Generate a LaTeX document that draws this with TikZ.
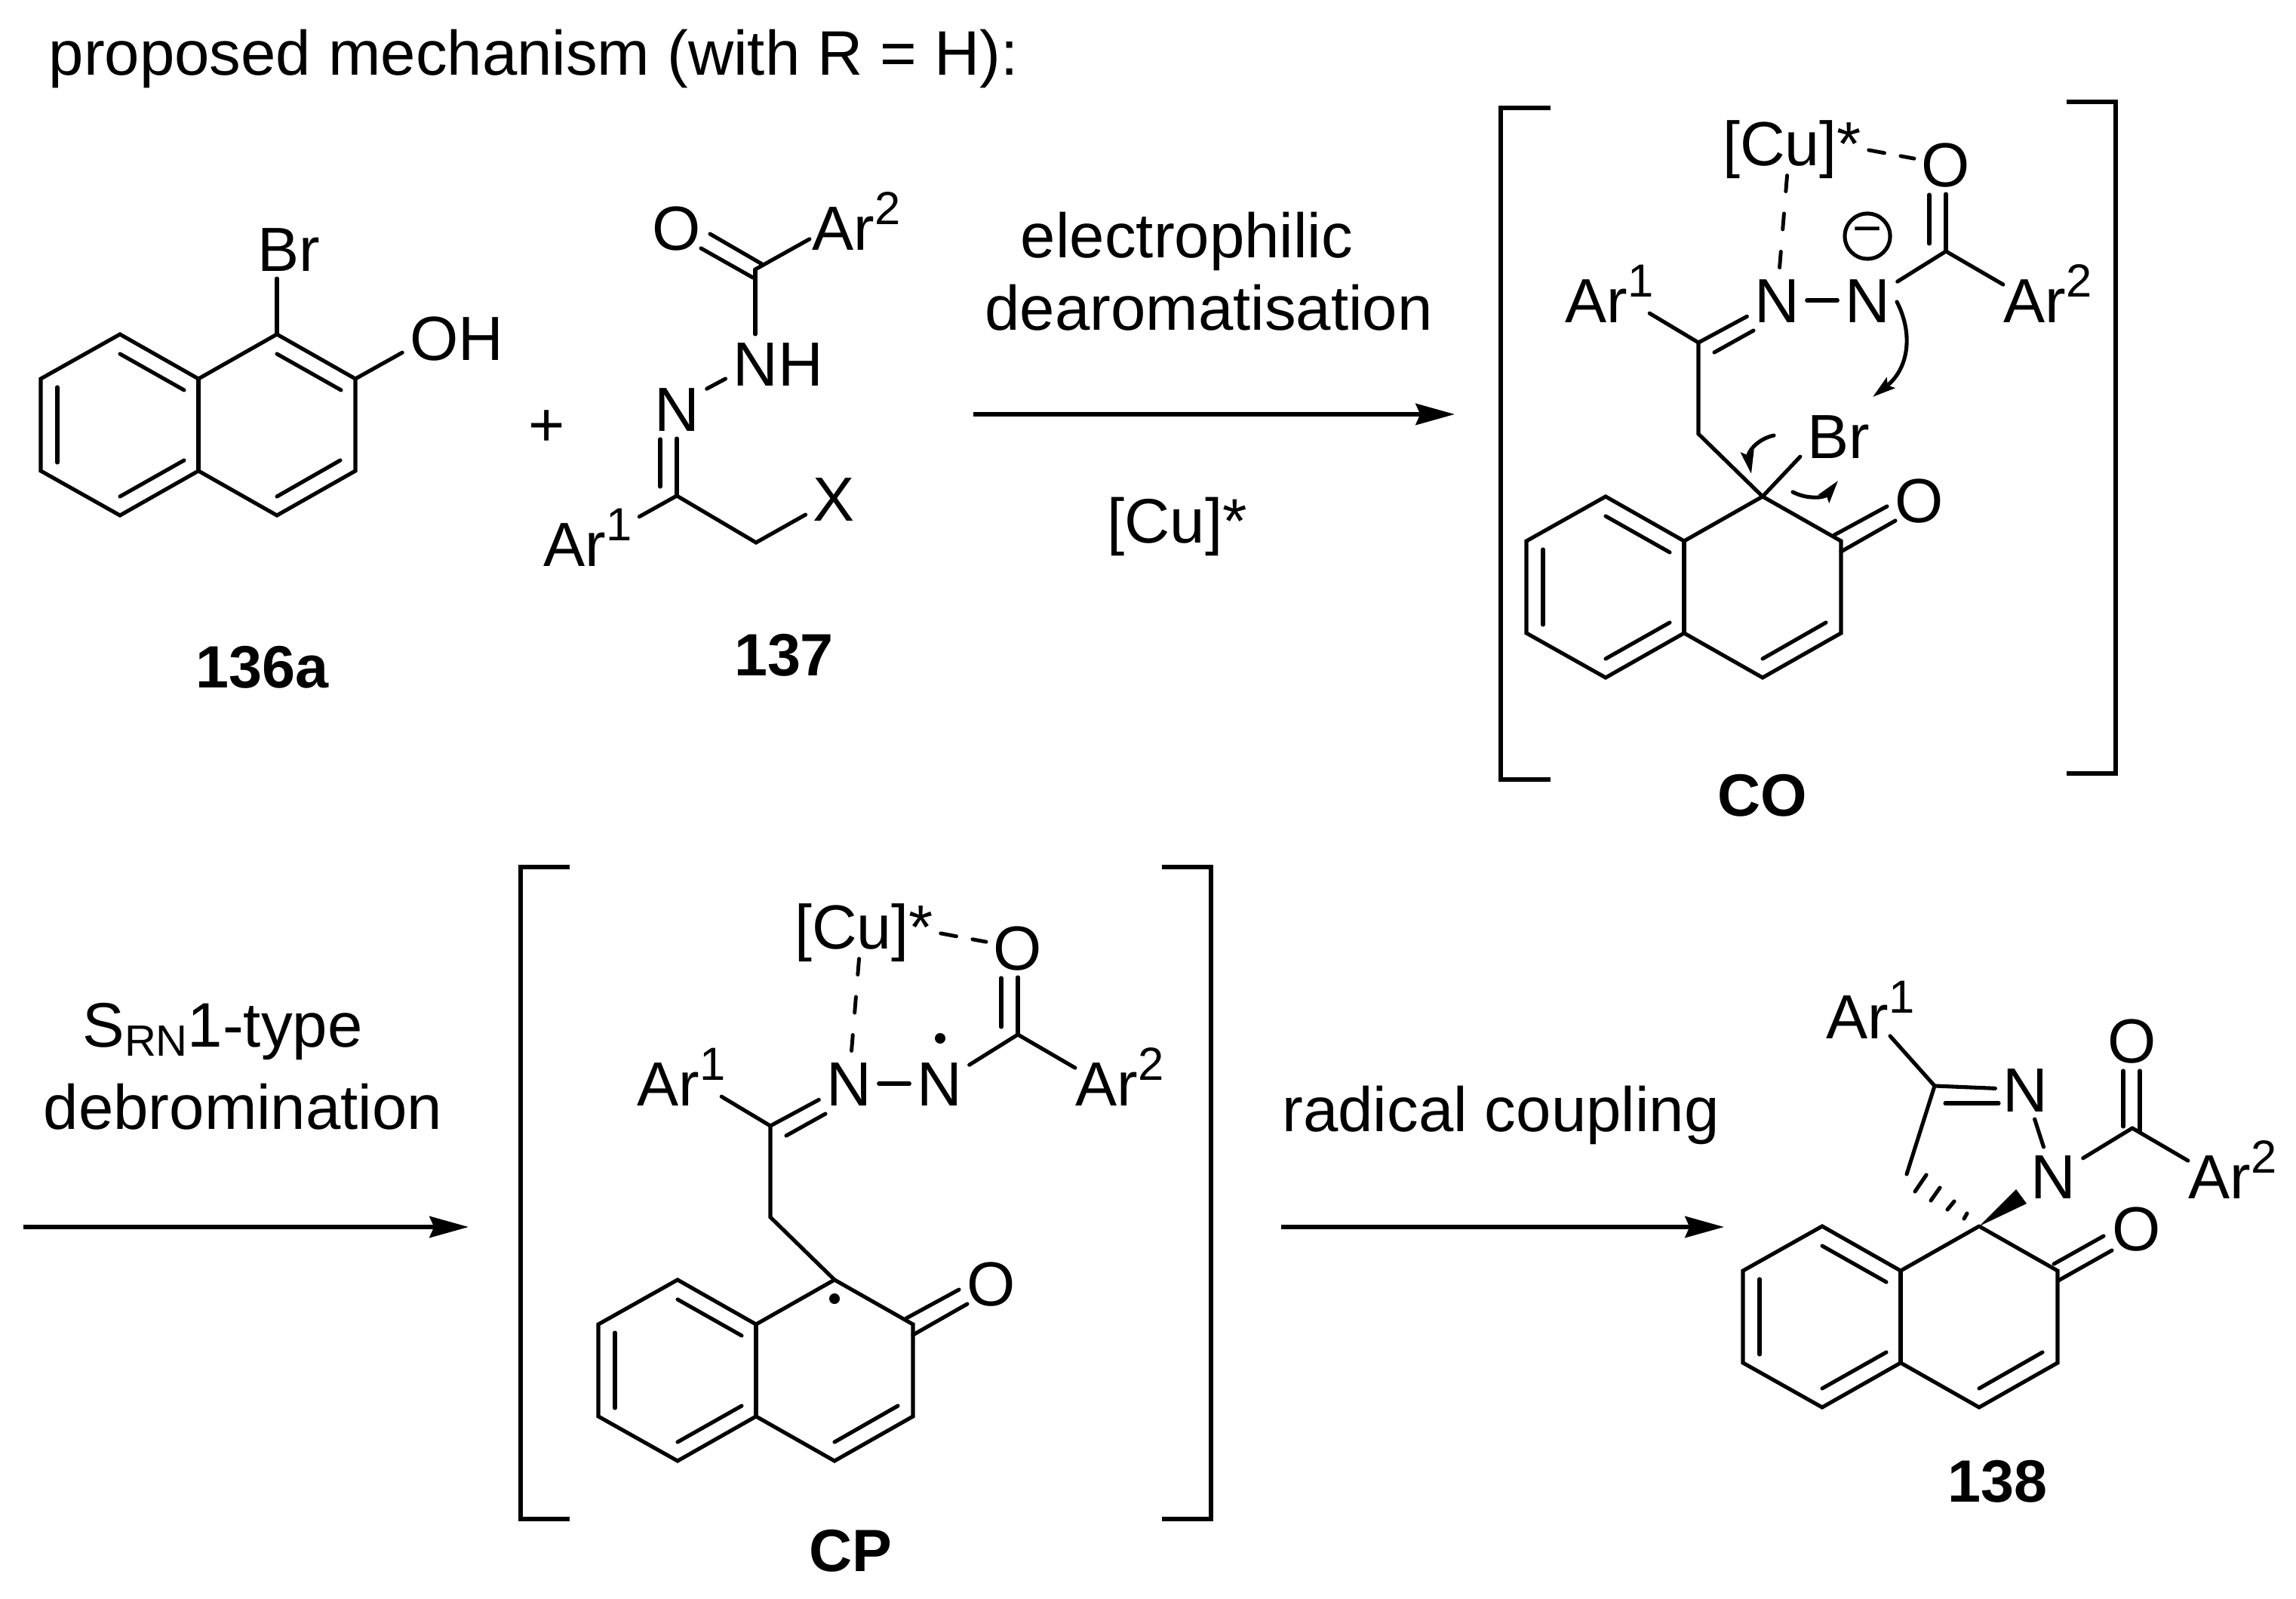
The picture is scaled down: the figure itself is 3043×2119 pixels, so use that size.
\documentclass[tikz,border=0pt]{standalone}
\usepackage{fontspec}
\setmainfont{Liberation Sans}
\usetikzlibrary{arrows.meta}
\newcommand{\supr}[1]{\raisebox{9.6pt}{\fontsize{17.5}{17.5}\selectfont #1}}
\newcommand{\subr}[1]{\raisebox{-3.5pt}{\fontsize{16.5}{16.5}\selectfont #1}}
\tikzset{
  bond/.style={line width=1.45pt,line cap=round},
  dbond/.style={line width=1.4pt,line cap=round,dash pattern=on 6pt off #1},
  atom/.style={font=\fontsize{23.5}{23.5}\selectfont,inner sep=2.6pt,text height=16.6pt,text depth=0pt},
  txt/.style={font=\fontsize{23.7}{28}\selectfont,inner sep=0pt,text height=16.6pt,text depth=0pt},
  cmpd/.style={font=\fontsize{22.5}{22.5}\selectfont\bfseries,inner sep=0pt,text height=16pt,text depth=0pt},
  rxn/.style={line width=1.6pt,-{Stealth[length=14.7pt,width=8pt,inset=1.7pt]}},
  curly/.style={line width=1.45pt,line cap=round,-{Stealth[length=8.6pt,width=5pt,inset=1.5pt]}},
  brk/.style={line width=1.45pt},
  naph/.pic={
    \coordinate (-a) at (0,0);
    \coordinate (-b) at (104,59);
    \coordinate (-c) at (104,181);
    \coordinate (-d) at (0,240);
    \coordinate (-e) at (-104,181);
    \coordinate (-f) at (-104,59);
    \coordinate (-g) at (-208,0);
    \coordinate (-h) at (-313,59);
    \coordinate (-i) at (-313,181);
    \coordinate (-j) at (-208,240);
    \draw[bond,line join=miter] (-a) -- (-b) -- (-c) -- (-d) -- (-e) -- (-j) -- (-i) -- (-h) -- (-g) -- (-f) -- (-a);
    \draw[bond] (-e) -- (-f);
    \draw[bond] (-208,26) -- (-123,74);
    \draw[bond] (-291,70) -- (-291,170);
    \draw[bond] (-208,215) -- (-123,167);
    \draw[bond] (0,215) -- (84,167);
  },
  chain/.pic={
    \coordinate (-c1) at (0,0);
    \coordinate (-ch) at (-85,-83);
    \coordinate (-cn) at (-85,-204);
    \coordinate (-co) at (243,-325);
    \node[atom] (-cu) at (39,-468) {[Cu]*};
    \node[atom] (-o) at (243,-440) {O};
    \node[atom] (-na) at (19,-260) {N};
    \node[atom] (-nb) at (139,-260) {N};
    \node[atom] (-ara) at (-203,-260) {Ar\supr{1}};
    \node[atom] (-arb) at (378,-260) {Ar\supr{2}};
    \node[atom] (-ok) at (208,5) {O};
    \draw[dbond=6.2pt] (-cu.-5) -- (-o);
    \draw[dbond=8.4pt,shorten <=1pt] (-cu.-99) -- (-na);
    \draw[bond] (221,-400) -- (221,-335);
    \draw[bond] (-co) -- (-o);
    \draw[bond,shorten >=-3pt] (-co) -- (-arb.159);
    \draw[bond] (-co) -- (-nb);
    \draw[bond] (-na) -- (-nb);
    \draw[bond] (-cn) -- (-na);
    \draw[bond] (-64,-191) -- (-12,-220);
    \draw[bond,shorten >=-5pt] (-cn) -- (-ara.-21);
    \draw[bond] (-cn) -- (-ch) -- (-c1);
    \draw[bond] (95,51) -- (165,13);
    \draw[bond] (104,73) -- (176,32);
  }
}
\begin{document}
\begin{tikzpicture}[x=0.01cm,y=-0.01cm]
    \useasboundingbox (0,0) rectangle (3043,2119);
    \node[txt,anchor=west] (title) at (64,70) {proposed mechanism (with R = H):};

    % starting materials
    \pic (sm) at (367,443) {naph};
    \node[atom] (br) at (383,330) {Br};
    \node[atom] (oh) at (605,448) {OH};
    \draw[bond] (sm-a) -- (sm-a |- br.south);
    \draw[bond] (sm-b) -- (oh.195);
    \draw[bond] (367,469) -- (452,517);
    \node[atom] (plus) at (725,562) {+};
    \node[cmpd] (lba) at (348,883) {136a};

    \coordinate (ca) at (1001,357);
    \coordinate (cb) at (897,657);
    \coordinate (cc) at (1002,719);
    \node[atom] (oa) at (897,302) {O};
    \node[atom] (arb) at (1135,302) {Ar\supr{2}};
    \node[atom] (nh) at (1031,482) {NH};
    \node[atom] (na) at (897,542) {N};
    \node[atom] (ara) at (779,721) {Ar\supr{1}};
    \node[atom] (xa) at (1105,661) {X};
    \draw[bond] (941,310) -- (1010,350);
    \draw[bond] (929,329) -- (998,368);
    \draw[bond,shorten >=-2pt] (ca) -- (arb.195);
    \draw[bond] (ca) -- (ca |- nh.north);
    \draw[bond] (na.34) -- (nh.196);
    \draw[bond] (cb) -- (na);
    \draw[bond] (875,582) -- (875,645);
    \draw[bond] (cb) -- (ara.28);
    \draw[bond] (cb) -- (cc) -- (xa);
    \node[cmpd] (lbb) at (1039,867) {137};

    % first step
    \coordinate (aas) at (1290,549);
    \coordinate (aae) at (1928,549);
    \draw[rxn] (aas) -- (aae);
    \node[txt] (ela) at (1573,312) {electrophilic};
    \node[txt] (elb) at (1602,408) {dearomatisation};
    \node[txt] (cat) at (1560,690) {[Cu]*};

    % intermediate CO
    \draw[brk] (2055,143) -- (1989,143) -- (1989,1033) -- (2055,1033);
    \draw[brk] (2739,135) -- (2804,135) -- (2804,1025) -- (2739,1025);
    \pic (cor) at (2336,658) {naph};
    \pic (coc) at (2336,658) {chain};
    \node[atom] (brc) at (2437,578) {Br};
    \draw[bond] (cor-a) -- (brc.208);
    \node[draw,circle,line width=1.45pt,minimum size=0.6cm,inner sep=0pt,font=\fontsize{19}{19}\selectfont] (chg) at (2475,313) {−};
    \draw[curly] (2514,400) .. controls (2537,445) and (2528,490) .. (2482,526);
    \draw[curly] (2351,577) .. controls (2328,582) and (2316,600) .. (2321,628);
    \draw[curly] (2376,652) .. controls (2395,662) and (2418,660) .. (2436,637);
    \node[cmpd] (lbc) at (2336,1053) {CO};

    % second step
    \coordinate (abs) at (31,1626);
    \coordinate (abe) at (621,1626);
    \draw[rxn] (abs) -- (abe);
    \node[txt] (sra) at (295,1358) {S\subr{RN}1-type};
    \node[txt] (srb) at (322,1467) {debromination};

    % intermediate CP
    \draw[brk] (755,1149) -- (690,1149) -- (690,2013) -- (755,2013);
    \draw[brk] (1540,1149) -- (1605,1149) -- (1605,2013) -- (1540,2013);
    \pic (cpr) at (1106,1696) {naph};
    \pic (cpc) at (1106,1696) {chain};
    \fill (1246,1376) circle[radius=7];
    \fill (1106,1721) circle[radius=7];
    \node[cmpd] (lbd) at (1127,2054) {CP};

    % third step
    \coordinate (acs) at (1698,1626);
    \coordinate (ace) at (2285,1626);
    \draw[rxn] (acs) -- (ace);
    \node[txt] (rad) at (1989,1470) {radical coupling};

    % product
    \pic (pr) at (2623,1625) {naph};
    \coordinate (cd) at (2564,1439);
    \coordinate (ce) at (2527,1556);
    \coordinate (cf) at (2826,1495);
    \node[atom] (arc) at (2479,1347) {Ar\supr{1}};
    \node[atom] (nb) at (2684,1444) {N};
    \node[atom] (nc) at (2721,1559) {N};
    \node[atom] (ob) at (2826,1379) {O};
    \node[atom] (ard) at (2959,1559) {Ar\supr{2}};
    \node[atom] (oc) at (2832,1628) {O};
    \draw[bond,shorten >=-5pt] (cd) -- (arc.-46);
    \draw[bond] (cd) -- (nb);
    \draw[bond] (2578,1462) -- (2649,1462);
    \draw[bond] (cd) -- (ce);
    \draw[bond] (nb) -- (nc);
    \draw[bond] (nc) -- (cf);
    \draw[bond,shorten >=-3pt] (cf) -- (ard.159);
    \draw[bond] (2814,1419) -- (2814,1493);
    \draw[bond] (2836,1419) -- (2836,1499);
    \draw[bond] (2722,1675) -- (2788,1638);
    \draw[bond] (2728,1697) -- (2799,1657);
    \fill (pr-a) -- (2672,1576) -- (2686,1595) -- cycle;
    \foreach \xa/\ya/\xb/\yb in {2553/1557/2538/1579,2571/1574/2559/1591,2590/1592/2581/1603,2607/1608/2603/1615}
      \draw[bond] (\xa,\ya) -- (\xb,\yb);
    \node[cmpd] (lbe) at (2647,1962) {138};
\end{tikzpicture}
\end{document}
